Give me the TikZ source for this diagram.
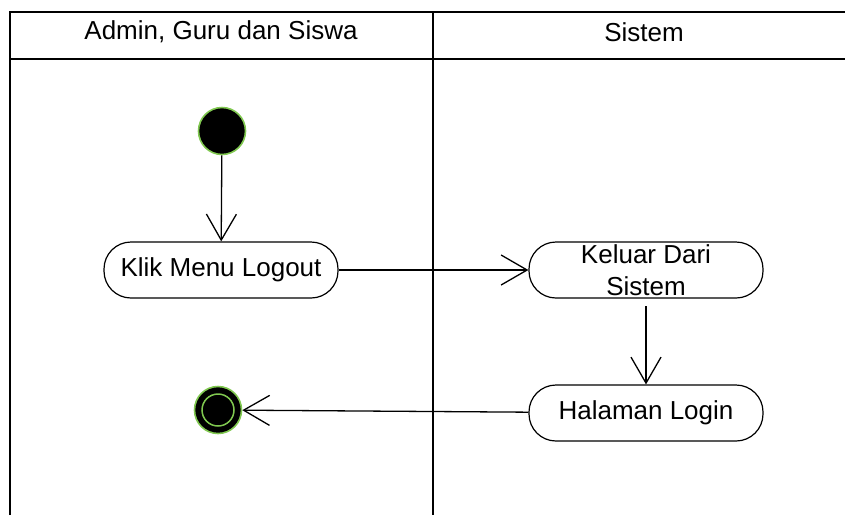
\documentclass[tikz,border=0pt]{standalone}
\usepackage{fontspec}
\setmainfont{Liberation Sans}
\usetikzlibrary{arrows.meta}
\definecolor{ringgreen}{RGB}{128,200,80}
\begin{document}
\begin{tikzpicture}[x=1pt,y=-1pt,
  lane/.style={line width=1.4pt,draw=black},
  act/.style={draw=black,line width=1.2pt,rounded corners=27pt,minimum width=234pt,minimum height=56pt,inner sep=0pt,font=\fontsize{26}{31}\selectfont,align=center},
  flow/.style={line width=1.3pt,-{Straight Barb[length=26pt,width=30pt,line width=1.3pt]}},
  lbl/.style={font=\fontsize{26}{31}\selectfont},
  dot/.style={circle,fill=black,draw=ringgreen,line width=1.6pt,minimum size=47pt,inner sep=0pt}
]
\useasboundingbox (0,0) rectangle (845,515);
% swimlanes
\draw[lane] (10,515) -- (10,12) -- (845,12);
\draw[lane] (10,59) -- (845,59);
\draw[lane] (433,12) -- (433,515);
\node[lbl] (h1) at (221,32) {Admin, Guru dan Siswa};
\node[lbl] (h2) at (644,32) {Sistem};
% nodes
\node[dot] (start) at (222,131) {};
\node[act] (klik) at (221,270) {Klik Menu Logout};
\node[act] (keluar) at (646,270) {\raisebox{1pt}{Keluar Dari}\\Sistem};
\node[act] (login) at (646,413) {Halaman Login};
\node[dot] (end) at (218,410) {};
\node[circle,draw=ringgreen,line width=1.5pt,minimum size=32pt,inner sep=0pt] (endin) at (218,410) {};
\coordinate (kbot) at (646,306);
% flows
\draw[flow] (start) -- (klik);
\draw[flow] (klik) -- (keluar);
\draw[flow] (kbot) -- (login);
\draw[flow] (login) -- (end);
\end{tikzpicture}
\end{document}
